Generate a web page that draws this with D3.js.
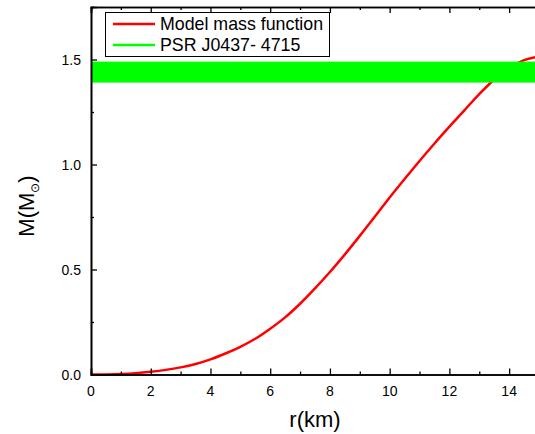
<!DOCTYPE html>
<html>
<head>
<meta charset="utf-8">
<script src="https://cdn.jsdelivr.net/npm/d3@7"></script>
<style>
  body { margin: 0; background: #fff; }
  svg { display: block; font-family: "Liberation Sans", Arial, sans-serif; }
</style>
</head>
<body>
<script>
// model mass function M(r)
var radius = [0, 0.5, 1, 1.5, 2, 2.5, 3, 3.5, 4, 4.5, 5, 5.5, 6, 6.5, 7, 7.5, 8, 8.5, 9, 9.5,
  10, 10.5, 11, 11.5, 12, 12.5, 13, 13.5, 14, 14.5, 15];
var mass = [0, 0.0003, 0.002, 0.006, 0.013, 0.022, 0.034, 0.05, 0.072, 0.1, 0.132, 0.17, 0.218, 0.272, 0.337, 0.41, 0.488,
  0.572, 0.66, 0.751, 0.843, 0.931, 1.017, 1.10, 1.18, 1.258, 1.335, 1.405, 1.46, 1.497, 1.515];

// PSR J0437-4715 mass band
var psrBand = [1.39, 1.49];

var xTicks = [0, 2, 4, 6, 8, 10, 12, 14];
var yTicks = [0, 0.5, 1.0, 1.5];
var legendLabels = ["Model mass function", "PSR J0437- 4715"];

var width = 535, height = 434;

var x = d3.scaleLinear().domain([0, 15]).range([91, 539]);
var y = d3.scaleLinear().domain([0, 1.75]).range([374.5, 7]);

var svg = d3.select("body").append("svg")
  .attr("width", width)
  .attr("height", height);

// curve
var line = d3.line()
  .curve(d3.curveCatmullRom)
  .x((d, i) => x(radius[i]))
  .y(d => y(d));

svg.append("path")
  .datum(mass)
  .attr("fill", "none")
  .attr("stroke", "#ff0000")
  .attr("stroke-width", 2.5)
  .attr("d", line);

// green band, drawn over the curve
svg.append("rect")
  .attr("x", x(0))
  .attr("y", y(psrBand[1]))
  .attr("width", x(15) - x(0))
  .attr("height", y(psrBand[0]) - y(psrBand[1]))
  .attr("fill", "#00ff00");

// axes (ticks inward)
var xMinor = d3.range(0, 16, 1).filter(d => d % 2 !== 0);
var yMinor = [0.25, 0.75, 1.25];

function styleAxis(g) {
  g.select(".domain").attr("stroke", "#000").attr("stroke-width", 1.6);
  g.selectAll(".tick line").attr("stroke", "#000").attr("stroke-width", 1.3);
}

svg.append("g")
  .attr("transform", `translate(0,${y(0)})`)
  .call(d3.axisTop(x).tickValues(xTicks).tickSize(6).tickFormat(""))
  .call(styleAxis);

svg.append("g")
  .attr("transform", `translate(0,${y(0)})`)
  .call(d3.axisTop(x).tickValues(xMinor).tickSize(3).tickFormat(""))
  .call(styleAxis);

svg.append("g")
  .attr("transform", `translate(0,${y(0)})`)
  .selectAll("text")
  .data(xTicks)
  .join("text")
    .attr("x", d => x(d))
    .attr("y", 21)
    .attr("text-anchor", "middle")
    .attr("font-size", 14)
    .text(d => d3.format("d")(d));

svg.append("g")
  .attr("transform", `translate(0,${y(1.75)})`)
  .call(d3.axisBottom(x).tickValues(xTicks).tickSize(6).tickFormat(""))
  .call(styleAxis);

svg.append("g")
  .attr("transform", `translate(0,${y(1.75)})`)
  .call(d3.axisBottom(x).tickValues(xMinor).tickSize(3).tickFormat(""))
  .call(styleAxis);

svg.append("g")
  .attr("transform", `translate(${x(0)},0)`)
  .call(d3.axisRight(y).tickValues(yTicks).tickSize(6).tickFormat(""))
  .call(styleAxis);

svg.append("g")
  .attr("transform", `translate(${x(0)},0)`)
  .call(d3.axisRight(y).tickValues(yMinor).tickSize(3).tickFormat(""))
  .call(styleAxis);

svg.append("g")
  .selectAll("text")
  .data(yTicks)
  .join("text")
    .attr("x", 81)
    .attr("y", d => y(d) + 5)
    .attr("text-anchor", "end")
    .attr("font-size", 14)
    .text(d => d3.format(".1f")(d));

// axis titles
svg.append("text")
  .attr("x", 315)
  .attr("y", 427)
  .attr("text-anchor", "middle")
  .attr("font-size", 22)
  .text("r(km)");

var yTitle = svg.append("text")
  .attr("transform", "translate(34,206) rotate(-90)")
  .attr("text-anchor", "middle")
  .attr("font-size", 22);
yTitle.append("tspan").text("M(M");
yTitle.append("tspan").attr("font-size", 12).attr("dy", 5).text("\u2299");
yTitle.append("tspan").attr("dy", -5).text(")");

// legend
var legend = svg.append("g");
legend.append("rect")
  .attr("x", 105.5).attr("y", 12.5)
  .attr("width", 224).attr("height", 44)
  .attr("fill", "#fff")
  .attr("stroke", "#000")
  .attr("stroke-width", 1);

var legendColors = ["#ff0000", "#00ff00"];
legend.selectAll("line")
  .data(legendLabels)
  .join("line")
    .attr("x1", 113).attr("x2", 155)
    .attr("y1", (d, i) => 24 + i * 21)
    .attr("y2", (d, i) => 24 + i * 21)
    .attr("stroke", (d, i) => legendColors[i])
    .attr("stroke-width", 2.5);

legend.selectAll("text")
  .data(legendLabels)
  .join("text")
    .attr("x", 160)
    .attr("y", (d, i) => 30 + i * 21)
    .attr("font-size", 17.8)
    .text(d => d);
</script>
</body>
</html>
